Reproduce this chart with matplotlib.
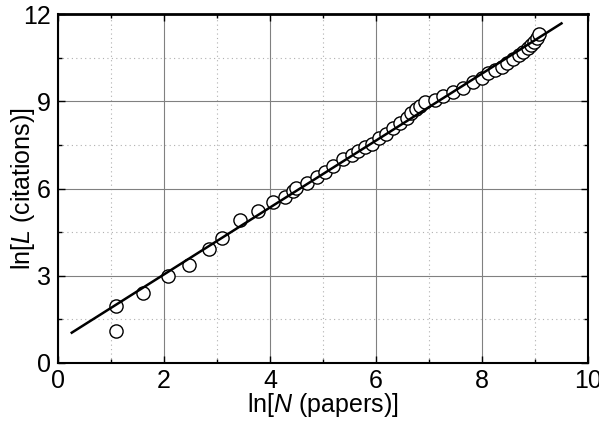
import numpy as np
import matplotlib
matplotlib.use("Agg")
import matplotlib.pyplot as plt
from matplotlib.ticker import MultipleLocator

plt.rcParams['font.family'] = ['Liberation Sans', 'DejaVu Sans']
plt.rcParams['mathtext.fontset'] = 'custom'
plt.rcParams['mathtext.it'] = 'Liberation Sans:italic'
plt.rcParams['mathtext.rm'] = 'Liberation Sans'

# ln N (papers) and ln L (citations)
ln_n = [1.10, 1.10, 1.61, 2.08, 2.48, 2.84, 3.10, 3.43, 3.77, 4.06, 4.28, 4.44,
        4.50, 4.69, 4.89, 5.03, 5.19, 5.38, 5.54, 5.67, 5.79, 5.93, 6.06, 6.19,
        6.33, 6.45, 6.58, 6.67, 6.75, 6.83, 6.92, 7.11, 7.27, 7.46, 7.64, 7.84,
        8.00, 8.12, 8.25, 8.37, 8.48, 8.59, 8.69, 8.78, 8.86, 8.92, 8.99, 9.03,
        9.08]
ln_l = [1.97, 1.11, 2.40, 3.00, 3.37, 3.92, 4.31, 4.92, 5.24, 5.53, 5.72, 5.93,
        6.03, 6.18, 6.38, 6.58, 6.79, 7.00, 7.15, 7.30, 7.41, 7.53, 7.72, 7.87,
        8.07, 8.24, 8.41, 8.58, 8.72, 8.84, 8.98, 9.06, 9.17, 9.32, 9.47, 9.67,
        9.79, 9.96, 10.08, 10.19, 10.33, 10.44, 10.59, 10.71, 10.82, 10.94, 11.05,
        11.17, 11.31]

# fitted straight line
fit_slope = 1.151
fit_intercept = 0.743
fit_range = [0.26, 9.5]

fig = plt.figure(figsize=(5.99, 4.21), dpi=100)
ax = fig.add_axes([0.0968, 0.1378, 0.8848, 0.8289])

xs = np.array(fit_range)
ax.plot(xs, np.polyval([fit_slope, fit_intercept], xs), color='black', lw=1.8, zorder=3)
ax.plot(ln_n, ln_l, 'o', mfc='white', mec='black', mew=1.0, ms=9.5, zorder=2)

ax.set_xlim(0, 10)
ax.set_ylim(0, 12)
ax.xaxis.set_major_locator(MultipleLocator(2))
ax.xaxis.set_minor_locator(MultipleLocator(1))
ax.yaxis.set_major_locator(MultipleLocator(3))
ax.yaxis.set_minor_locator(MultipleLocator(1.5))
ax.grid(which='major', color='#808080', lw=0.8, ls='-')
ax.grid(which='minor', color='#b0b0b0', lw=0.8, ls=(0, (1, 3)))
ax.set_axisbelow(True)
ax.tick_params(which='both', direction='in', top=True, right=True, labelsize=18,
               width=1.0, color='black')
ax.tick_params(axis='y', pad=5)
ax.tick_params(axis='x', pad=4)
ax.tick_params(which='major', length=5)
ax.tick_params(which='minor', length=3)
for s in ax.spines.values():
    s.set_linewidth(1.5)
ax.spines['top'].set_linewidth(2)

ax.set_xlabel(r'ln[$\mathit{N}\ $(papers)]', fontsize=18, labelpad=-1)
ax.set_ylabel(r'ln[$\mathit{L}\ $(citations)]', fontsize=18, labelpad=-10)

fig.savefig('out.png', dpi=100)
